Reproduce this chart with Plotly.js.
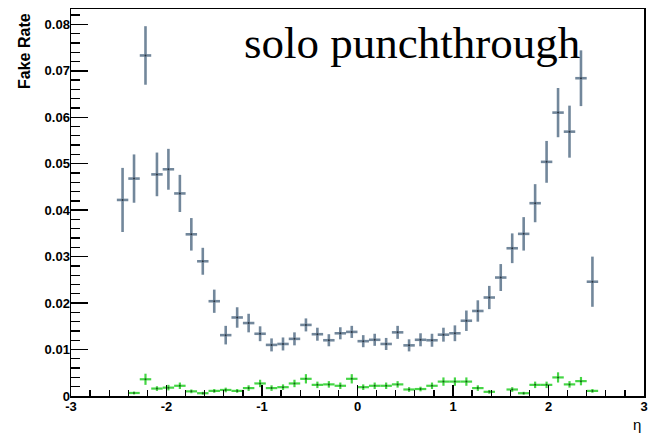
<!DOCTYPE html>
<html>
<head>
<meta charset="utf-8">
<script src="https://cdn.plot.ly/plotly-3.0.1.min.js"></script>
<style>html,body{margin:0;padding:0;background:#fff;}#chart{width:653px;height:433px;}</style>
</head>
<body>
<div id="chart"></div>
<script>
// bin centers (eta)
const etaCenters = [-2.46,-2.34,-2.22,-2.10,-1.98,-1.86,-1.74,-1.62,-1.50,-1.38,-1.26,-1.14,-1.02,-0.90,-0.78,-0.66,-0.54,-0.42,-0.30,-0.18,-0.06,
                     0.06, 0.18, 0.30, 0.42, 0.54, 0.66, 0.78, 0.90, 1.02, 1.14, 1.26, 1.38, 1.50, 1.62, 1.74, 1.86, 1.98, 2.10, 2.22, 2.34, 2.46];
const binHalfWidth = 0.06;

// blue-grey series: fake rate
const fakeRate = [0.0422,0.0468,0.0733,0.0477,0.0488,0.0436,0.0348,0.0290,0.0204,0.0131,0.0169,0.0157,0.0134,0.0110,0.0112,0.0123,0.0153,0.0133,0.0120,0.0135,0.0138,
                  0.0118,0.0121,0.0112,0.0137,0.0109,0.0121,0.0120,0.0132,0.0135,0.0162,0.0183,0.0212,0.0255,0.0318,0.0349,0.0415,0.0504,0.0610,0.0569,0.0684,0.0246];
const fakeRateErr = [0.0069,0.0052,0.0063,0.0047,0.0044,0.0040,0.0035,0.0029,0.0025,0.0020,0.0022,0.0020,0.0016,0.0014,0.0014,0.0014,0.0014,0.0014,0.0013,0.0013,0.0013,
                     0.0013,0.0013,0.0013,0.0014,0.0013,0.0014,0.0014,0.0015,0.0017,0.0022,0.0023,0.0025,0.0029,0.0032,0.0036,0.0041,0.0045,0.0053,0.0056,0.0060,0.0054];

// green series: solo punchthrough
const punchRate = [null,0.00065,0.0036,0.0016,0.0018,0.0022,0.0010,0.0006,0.0011,0.0013,0.0011,0.0017,0.0027,0.0017,0.0019,0.0027,0.0037,0.0024,0.0025,0.0022,0.0037,
                   0.0019,0.0022,0.0022,0.0025,0.0014,0.0015,0.0022,0.0031,0.0031,0.0031,0.0017,0.0009,null,0.0014,0.0006,0.0024,0.0024,0.0040,0.0025,0.0032,0.0011];
const punchRateErr = [0,0.0003,0.0012,0.0005,0.0006,0.0007,0.0004,0.0003,0.0004,0.0005,0.0004,0.0006,0.0008,0.0006,0.0006,0.0008,0.0010,0.0007,0.0007,0.0007,0.0010,
                      0.0006,0.0007,0.0007,0.0007,0.0005,0.0005,0.0007,0.0009,0.0009,0.0009,0.0006,0.0004,0,0.0005,0.0003,0.0007,0.0007,0.0011,0.0007,0.0009,0.0004];

const xTickVals = [-3,-2,-1,0,1,2,3];
const xTickText = ['-3','-2','-1','0','1','2','3'];
const yTickVals = [0,0.01,0.02,0.03,0.04,0.05,0.06,0.07,0.08];
const yTickText = ['0','0.01','0.02','0.03','0.04','0.05','0.06','0.07','0.08'];

const blue = '#72879b';
const green = '#45d645';

const traces = [
  {
    x: etaCenters, y: fakeRate, type: 'scatter', mode: 'markers', name: 'fake rate',
    marker: {size: 2, color: '#2a3440'},
    error_y: {type: 'data', array: fakeRateErr, visible: true, color: blue, thickness: 2.6, width: 0},
    error_x: {type: 'constant', value: binHalfWidth, visible: true, color: blue, thickness: 2.6, width: 0},
    hoverinfo: 'x+y'
  },
  {
    x: etaCenters, y: punchRate, type: 'scatter', mode: 'markers', name: 'solo punchthrough',
    marker: {size: 2, color: '#1a5a1a'},
    error_y: {type: 'data', array: punchRateErr, visible: true, color: green, thickness: 2.2, width: 0},
    error_x: {type: 'constant', value: binHalfWidth, visible: true, color: green, thickness: 2.2, width: 0},
    hoverinfo: 'x+y'
  }
];

const layout = {
  width: 653, height: 433,
  margin: {l: 71, r: 9, t: 9, b: 37, pad: 0},
  paper_bgcolor: '#ffffff', plot_bgcolor: '#ffffff',
  showlegend: false,
  font: {family: 'Liberation Sans, Arial, sans-serif', color: '#000'},
  xaxis: {
    range: [-3, 3], showgrid: false, zeroline: false,
    showline: true, linecolor: '#000', linewidth: 1.5, mirror: true,
    ticks: 'inside', ticklen: 11, tickwidth: 1.5, tickcolor: '#000',
    tickvals: xTickVals, ticktext: xTickText, ticklabelstandoff: -2,
    minor: {ticks: 'inside', ticklen: 6, tickwidth: 1.3, tickcolor: '#000', dtick: 0.2, showgrid: false},
    tickfont: {family: 'Liberation Sans, Arial, sans-serif', size: 13, color: '#000', weight: 'bold'},
    fixedrange: true
  },
  yaxis: {
    range: [0, 0.0833], showgrid: false, zeroline: false,
    showline: true, linecolor: '#000', linewidth: 1.5, mirror: true,
    ticks: 'inside', ticklen: 17, tickwidth: 1.5, tickcolor: '#000',
    tickvals: yTickVals, ticktext: yTickText, ticklabelstandoff: -3,
    minor: {ticks: 'inside', ticklen: 9, tickwidth: 1.3, tickcolor: '#000', dtick: 0.002, showgrid: false},
    tickfont: {family: 'Liberation Sans, Arial, sans-serif', size: 13, color: '#000', weight: 'bold'},
    fixedrange: true
  },
  annotations: [
    {text: 'solo punchthrough', xref: 'paper', yref: 'paper', x: 0.299, y: 0.912, xanchor: 'left', yanchor: 'middle',
     showarrow: false, font: {family: 'Liberation Serif, Times New Roman, serif', size: 45, color: '#000'}},
    {text: 'Fake Rate', xref: 'paper', yref: 'paper', x: -0.080, y: 0.892, xanchor: 'center', yanchor: 'middle', textangle: -90,
     showarrow: false, font: {family: 'Liberation Sans, Arial, sans-serif', size: 16, color: '#000', weight: 'bold'}},
    {text: 'η', xref: 'paper', yref: 'paper', x: 0.988, y: -0.073, xanchor: 'center', yanchor: 'middle',
     showarrow: false, font: {family: 'Liberation Sans, Arial, sans-serif', size: 15, color: '#000'}}
  ]
};

Plotly.newPlot('chart', traces, layout, {staticPlot: true, displayModeBar: false});
</script>
</body>
</html>
